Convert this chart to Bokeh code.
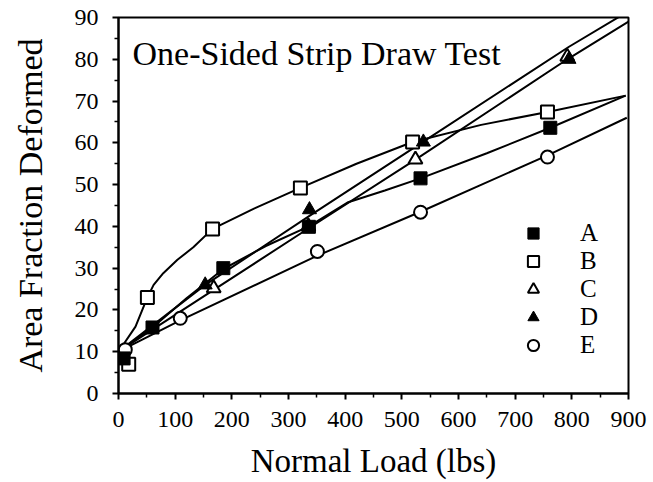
from bokeh.plotting import figure
from bokeh.models import Range1d, Label, Legend, LegendItem, FixedTicker
from bokeh.embed import file_html
from bokeh.resources import INLINE

# ---- data ----
x_ticks = [0, 100, 200, 300, 400, 500, 600, 700, 800, 900]
y_ticks = [0, 10, 20, 30, 40, 50, 60, 70, 80, 90]

# measured points
A_x = [9, 60, 185, 336, 533, 762]
A_y = [8.4, 15.8, 30.0, 39.9, 51.5, 63.6]
B_x = [18, 51, 166, 321, 519, 757]
B_y = [7.0, 23.0, 39.4, 49.2, 60.2, 67.4]
C_x = [168, 335, 524, 792]
C_y = [25.2, 40.0, 56.0, 80.6]
D_x = [153, 337, 538, 795]
D_y = [26.0, 44.0, 60.2, 80.0]
E_x = [12, 109, 351, 533, 757]
E_y = [10.5, 18.0, 34.0, 43.4, 56.6]

# hand-drawn fit curves
A_fit_x = [0, 60, 120, 185, 260, 336, 404, 470, 533, 650, 762, 895]
A_fit_y = [10, 15.8, 22.8, 29.8, 35.3, 40.0, 45.7, 48.6, 51.5, 57.5, 63.6, 71.3]
B_fit_x = [0, 30, 51, 62, 79, 104, 132, 166, 240, 321, 420, 519, 640, 757, 895]
B_fit_y = [10, 16, 23, 26, 28.8, 32, 35, 39.4, 44.3, 49.2, 55, 60.2, 64.3, 67.4, 71.3]
C_fit_x = [0, 168, 335, 524, 792, 900]
C_fit_y = [10, 24.8, 39.5, 56.0, 80.0, 89.0]
D_fit_x = [0, 153, 337, 538, 795, 900]
D_fit_y = [10, 26.0, 42.5, 60.3, 83.0, 91.5]
E_fit_x = [0, 109, 351, 533, 757, 897]
E_fit_y = [10, 17.5, 33.0, 43.5, 57.0, 66.0]

labels = ["A", "B", "C", "D", "E"]

SERIF = "'Liberation Serif', 'Times New Roman', 'DejaVu Serif', serif"

p = figure(width=653, height=482, output_backend="svg", toolbar_location=None,
           x_range=Range1d(0, 900), y_range=Range1d(0, 90),
           min_border_left=118, min_border_right=25, min_border_top=17, min_border_bottom=89)
p.grid.visible = False
p.background_fill_color = "white"
p.border_fill_color = "white"
p.outline_line_color = "black"
p.outline_line_width = 2

for ax in (p.xaxis[0], p.yaxis[0]):
    ax.axis_line_width = 2
    ax.axis_line_color = "black"
    ax.major_tick_line_width = 2
    ax.minor_tick_line_width = 1.5
    ax.major_tick_in = 0
    ax.major_tick_out = 6
    ax.minor_tick_in = 0
    ax.minor_tick_out = 4
    ax.major_label_text_font = SERIF
    ax.major_label_text_font_size = "24px"
    ax.major_label_text_color = "black"
    ax.axis_label_text_font = SERIF
    ax.axis_label_text_font_style = "normal"
    ax.axis_label_text_color = "black"

p.xaxis.ticker = FixedTicker(ticks=x_ticks, minor_ticks=[v + 50 for v in x_ticks[:-1]])
p.yaxis.ticker = FixedTicker(ticks=y_ticks, minor_ticks=[v + 5 for v in y_ticks[:-1]])
p.xaxis.axis_label = "Normal Load (lbs)"
p.yaxis.axis_label = "Area Fraction Deformed"
p.xaxis.axis_label_text_font_size = "33px"
p.yaxis.axis_label_text_font_size = "34px"
p.xaxis.major_label_standoff = 12
p.xaxis.axis_label_standoff = 13
p.yaxis.major_label_standoff = 14
p.yaxis.axis_label_standoff = 23

lw = 2
for fx, fy in [(A_fit_x, A_fit_y), (B_fit_x, B_fit_y), (C_fit_x, C_fit_y),
               (D_fit_x, D_fit_y), (E_fit_x, E_fit_y)]:
    p.line(fx, fy, line_color="black", line_width=lw)

rB = p.scatter(B_x, B_y, marker="square", size=13, fill_color="white", line_color="black", line_width=2)
rE = p.scatter(E_x, E_y, marker="circle", size=13, fill_color="white", line_color="black", line_width=2)
rC = p.scatter(C_x, C_y, marker="triangle", size=14, fill_color="white", line_color="black", line_width=2)
rA = p.scatter(A_x, A_y, marker="square", size=13, fill_color="black", line_color="black", line_width=1)
rD = p.scatter(D_x, D_y, marker="triangle", size=14, fill_color="black", line_color="black", line_width=1)

legend = Legend(items=[LegendItem(label=labels[0], renderers=[rA]),
                       LegendItem(label=labels[1], renderers=[rB]),
                       LegendItem(label=labels[2], renderers=[rC]),
                       LegendItem(label=labels[3], renderers=[rD]),
                       LegendItem(label=labels[4], renderers=[rE])],
                location=(401, 34), orientation="vertical",
                glyph_width=28, glyph_height=28, label_height=28, label_width=20,
                label_standoff=33, spacing=0, padding=0, margin=0,
                border_line_alpha=0, background_fill_alpha=0,
                label_text_font=SERIF, label_text_font_size="25px", label_text_color="black")
p.add_layout(legend, "center")

title = Label(x=14, y=340, x_units="screen", y_units="screen",
              text="One-Sided Strip Draw Test", text_font=SERIF, text_font_size="34px",
              text_color="black", text_baseline="alphabetic")
p.add_layout(title)

open("out.html", "w").write(file_html(p, INLINE))
